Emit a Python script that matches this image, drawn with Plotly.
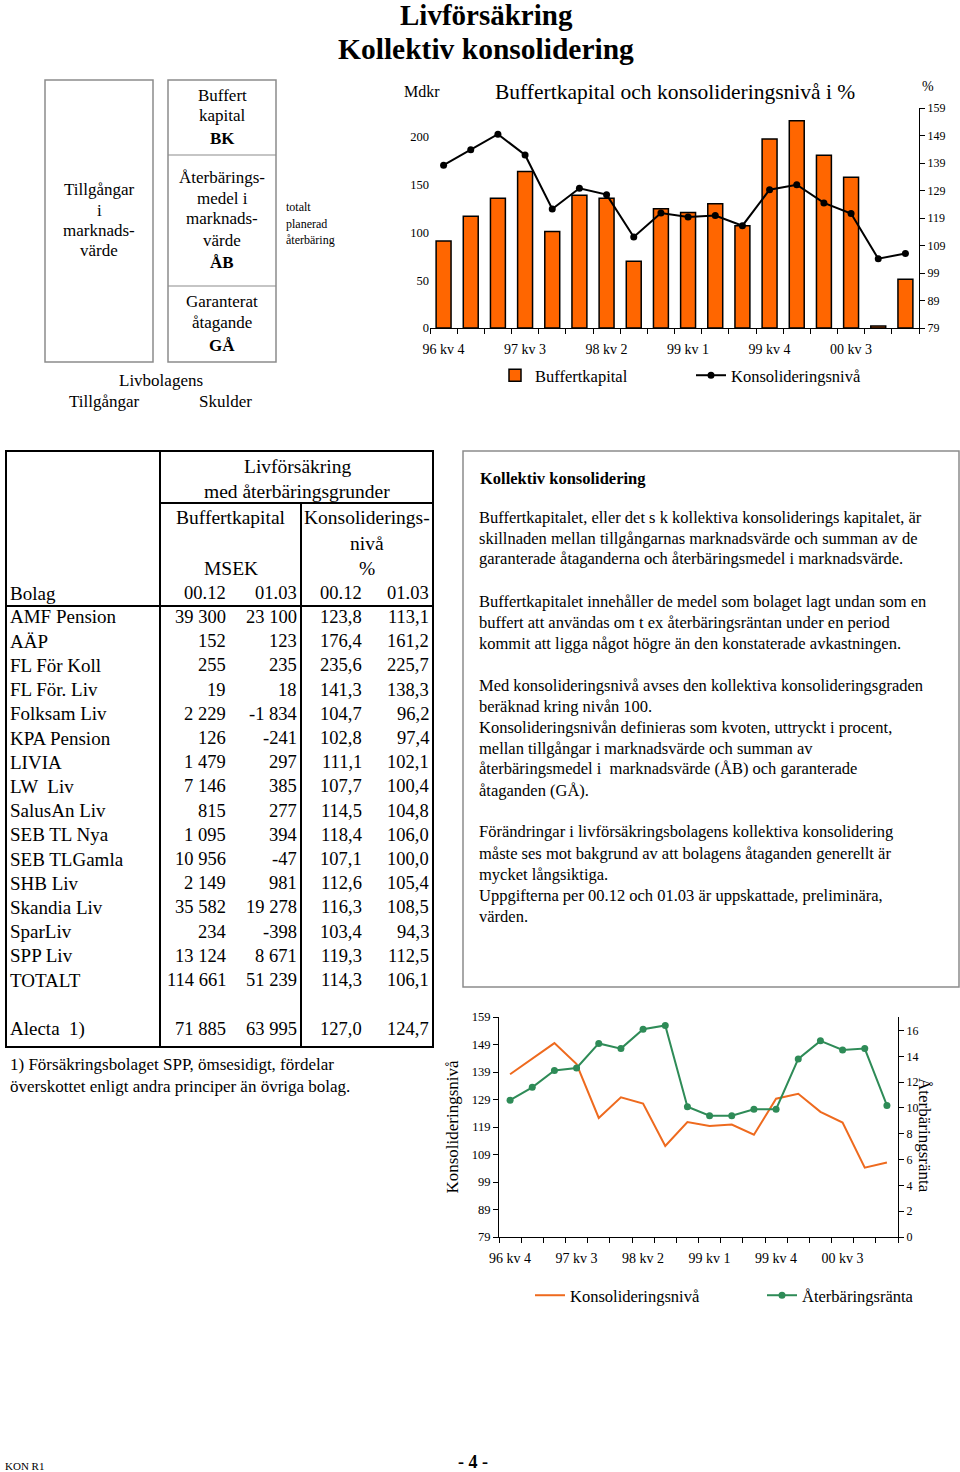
import plotly.graph_objects as go

# ---------------- data ----------------
quarters = ["96 kv 4", "97 kv 1", "97 kv 2", "97 kv 3", "97 kv 4", "98 kv 1", "98 kv 2",
            "98 kv 3", "98 kv 4", "99 kv 1", "99 kv 2", "99 kv 3", "99 kv 4", "00 kv 1",
            "00 kv 2", "00 kv 3", "00 kv 4", "01 kv 1"]
buffertkapital = [91, 117, 136, 164, 101, 139, 136, 70, 125, 121, 130, 107, 198, 217, 181, 158, 2, 51]
konsolideringsniva = [138.2, 143.8, 149.5, 141.9, 122.3, 129.8, 127.5, 112.1, 120.8, 119.4,
                      119.9, 116.2, 129.3, 131.1, 124.5, 120.6, 104.2, 106.1]
aterbaringsranta = [10.6, 11.6, 12.9, 13.1, 15.0, 14.6, 16.1, 16.4, 10.1, 9.4, 9.4, 9.9, 9.9,
                    13.8, 15.2, 14.5, 14.6, 10.2]
label_step = 3
left_ticks_top = [0, 50, 100, 150, 200]
pct_ticks = [79, 89, 99, 109, 119, 129, 139, 149, 159]
ranta_ticks = [0, 2, 4, 6, 8, 10, 12, 14, 16]

bolag = ["AMF Pension", "AÄP", "FL För Koll", "FL För. Liv", "Folksam Liv", "KPA Pension",
         "LIVIA", "LW  Liv", "SalusAn Liv", "SEB TL Nya", "SEB TLGamla", "SHB Liv",
         "Skandia Liv", "SparLiv", "SPP Liv", "TOTALT", "Alecta  1)"]
bk_0012 = [39300, 152, 255, 19, 2229, 126, 1479, 7146, 815, 1095, 10956, 2149, 35582, 234, 13124, 114661, 71885]
bk_0103 = [23100, 123, 235, 18, -1834, -241, 297, 385, 277, 394, -47, 981, 19278, -398, 8671, 51239, 63995]
kn_0012 = [123.8, 176.4, 235.6, 141.3, 104.7, 102.8, 111.1, 107.7, 114.5, 118.4, 107.1, 112.6, 116.3, 103.4, 119.3, 114.3, 127.0]
kn_0103 = [113.1, 161.2, 225.7, 138.3, 96.2, 97.4, 102.1, 100.4, 104.8, 106.0, 100.0, 105.4, 108.5, 94.3, 112.5, 106.1, 124.7]

FONT = "Liberation Serif"
ORANGE = "#FF6600"
ORANGE_LINE = "#EE6A1E"
GREEN = "#2E8B57"

W, H = 960, 1472


def X(px):
    return px / W


def Y(py):
    return 1 - py / H


idx = list(range(len(quarters)))
lab_idx = idx[::label_step][:6]
lab_txt = [quarters[i] for i in lab_idx]

fig = go.Figure()

# ---------------- top chart ----------------
fig.add_trace(go.Bar(x=idx, y=buffertkapital, name="Buffertkapital", width=0.55,
                     marker=dict(color=ORANGE, line=dict(color="black", width=1.5)),
                     xaxis="x", yaxis="y", legend="legend"))
fig.add_trace(go.Scatter(x=idx, y=konsolideringsniva, name="Konsolideringsnivå",
                         mode="lines+markers", line=dict(color="black", width=2),
                         marker=dict(color="black", size=7),
                         xaxis="x", yaxis="y2", legend="legend"))

# ---------------- bottom chart ----------------
fig.add_trace(go.Scatter(x=idx, y=konsolideringsniva, name="Konsolideringsnivå",
                         mode="lines", line=dict(color=ORANGE_LINE, width=2),
                         xaxis="x2", yaxis="y3", legend="legend2"))
fig.add_trace(go.Scatter(x=idx, y=aterbaringsranta, name="Återbäringsränta",
                         mode="lines+markers", line=dict(color=GREEN, width=2),
                         marker=dict(color=GREEN, size=7),
                         xaxis="x2", yaxis="y4", legend="legend2"))

xcommon = dict(range=[-0.5, len(quarters) - 0.5], tickmode="array", tickvals=lab_idx,
               ticktext=lab_txt, ticks="", showline=True, linecolor="black", linewidth=1,
               showgrid=False, zeroline=False, ticklabelstandoff=8, automargin=False,
               minor=dict(tickmode="linear", tick0=-0.5, dtick=1, ticks="outside",
                          ticklen=5, tickcolor="black", showgrid=False),
               tickfont=dict(family=FONT, size=14, color="black"))

fig.update_layout(
    template="none",
    xaxis=dict(domain=[X(430), X(919)], anchor="y", **xcommon),
    yaxis=dict(domain=[Y(328), Y(108)], range=[0, 230.4], tickvals=left_ticks_top,
               showline=False, showgrid=False, zeroline=False, ticks="", automargin=False,
               tickfont=dict(family=FONT, size=12.5, color="black"), anchor="x"),
    yaxis2=dict(domain=[Y(328), Y(108)], range=[79, 159], tickvals=pct_ticks,
                overlaying="y", side="right", anchor="x", showline=True, linecolor="black",
                ticks="outside", ticklen=5, tickcolor="black", showgrid=False, zeroline=False,
                automargin=False, tickfont=dict(family=FONT, size=12, color="black")),
    xaxis2=dict(domain=[X(499), X(898)], anchor="y3", **xcommon),
    yaxis3=dict(domain=[Y(1237), Y(1017)], range=[79, 159], tickvals=pct_ticks, anchor="x2",
                showline=True, linecolor="black", ticks="outside", ticklen=5, tickcolor="black",
                showgrid=False, zeroline=False, automargin=False,
                tickfont=dict(family=FONT, size=12.5, color="black"),
                title=dict(text="Konsolideringsnivå", standoff=8,
                           font=dict(family=FONT, size=17, color="black"))),
    yaxis4=dict(domain=[Y(1237), Y(1017)], range=[0, 17.05], tickvals=ranta_ticks,
                overlaying="y3", side="right", anchor="x2", showline=True, linecolor="black",
                ticks="outside", ticklen=5, tickcolor="black", showgrid=False, zeroline=False,
                automargin=False, tickfont=dict(family=FONT, size=12, color="black")),
    legend=dict(orientation="h", x=X(495), y=Y(358), xanchor="left", yanchor="top",
                font=dict(family=FONT, size=16.5, color="black"), bgcolor="rgba(0,0,0,0)",
                entrywidth=151, entrywidthmode="pixels"),
    legend2=dict(orientation="h", x=X(530), y=Y(1278), xanchor="left", yanchor="top",
                 font=dict(family=FONT, size=16.5, color="black"), bgcolor="rgba(0,0,0,0)",
                 entrywidth=187, entrywidthmode="pixels"),
    width=W, height=H, autosize=False,
    margin=dict(l=0, r=0, t=0, b=0, pad=0, autoexpand=False),
    paper_bgcolor="white", plot_bgcolor="white",
    showlegend=True,
    font=dict(family=FONT, color="black"),
)

ann = []


def txt(x, y, s, size=16, xanchor="center", bold=False, yanchor="middle", angle=0):
    if bold:
        s = "<b>" + s + "</b>"
    ann.append(dict(x=X(x), y=Y(y), xref="paper", yref="paper", text=s, showarrow=False,
                    xanchor=xanchor, yanchor=yanchor, textangle=angle,
                    font=dict(family=FONT, size=size, color="black")))


# page title
txt(486, 15, "Livförsäkring", 29, bold=True)
txt(486, 49, "Kollektiv konsolidering", 29.5, bold=True)

# top chart texts
txt(675, 92, "Buffertkapital och konsolideringsnivå i %", 21.5)
txt(422, 91, "Mdkr", 16)
txt(928, 86, "%", 14)

shapes = []


def rect(x0, y0, x1, y1, color="#8c8c8c", width=1.5):
    shapes.append(dict(type="rect", xref="paper", yref="paper", x0=X(x0), x1=X(x1),
                       y0=Y(y0), y1=Y(y1), line=dict(color=color, width=width)))


def line(x0, y0, x1, y1, color="black", width=2):
    shapes.append(dict(type="line", xref="paper", yref="paper", x0=X(x0), x1=X(x1),
                       y0=Y(y0), y1=Y(y1), line=dict(color=color, width=width)))


rect(45, 80, 153, 362)
rect(168, 80, 276, 362)
line(168, 155, 276, 155, "#8c8c8c", 1.2)
line(168, 286, 276, 286, "#8c8c8c", 1.2)
for s, yy, b in [("Buffert", 95, False), ("kapital", 116, False), ("BK", 138, True),
                 ("Återbärings-", 177, False), ("medel i", 198, False), ("marknads-", 219, False),
                 ("värde", 240, False), ("ÅB", 262, True), ("Garanterat", 301, False),
                 ("åtagande", 322, False), ("GÅ", 345, True)]:
    txt(222, yy, s, 17, bold=b)
for s, yy in [("Tillgångar", 189), ("i", 210), ("marknads-", 231), ("värde", 251)]:
    txt(99, yy, s, 17)
for s, yy in [("totalt", 207), ("planerad", 224), ("återbäring", 240)]:
    txt(284, yy, s, 12, xanchor="left")
txt(161, 380, "Livbolagens", 17)
txt(104, 401, "Tillgångar", 17)
txt(225, 401, "Skulder", 17)

# ---------------- table ----------------
rect(6, 451, 433, 1047, "black", 2)
line(160, 451, 160, 1047)
line(160, 503, 433, 503)
line(301, 503, 301, 1047)
line(6, 606, 433, 606)

HS = 19.5   # header text
NS = 19     # company names
TS = 18.5   # numbers
txt(297, 466, "Livförsäkring", HS)
txt(297, 491, "med återbäringsgrunder", HS)
txt(231, 517, "Buffertkapital", HS)
txt(367, 517, "Konsoliderings-", HS)
txt(367, 543, "nivå", HS)
txt(231, 568, "MSEK", HS)
txt(367, 568, "%", HS)
txt(8, 593, "Bolag", NS, xanchor="left")
col_r = [228, 299, 364, 431]
for c, s in zip(col_r, ["00.12", "01.03", "00.12", "01.03"]):
    txt(c, 593, s, TS, xanchor="right")


def fmt_int(v):
    return f"{v:,}".replace(",", " ")


def fmt_dec(v):
    return f"{v:.1f}".replace(".", ",")


row_y = [617 + 24.2 * i for i in range(16)] + [1029]
for i, name in enumerate(bolag):
    yy = row_y[i]
    txt(8, yy, name, NS, xanchor="left")
    txt(col_r[0], yy, fmt_int(bk_0012[i]), TS, xanchor="right")
    txt(col_r[1], yy, fmt_int(bk_0103[i]), TS, xanchor="right")
    txt(col_r[2], yy, fmt_dec(kn_0012[i]), TS, xanchor="right")
    txt(col_r[3], yy, fmt_dec(kn_0103[i]), TS, xanchor="right")

txt(8, 1064, "1) Försäkringsbolaget SPP, ömsesidigt, fördelar", 17, xanchor="left")
txt(8, 1086, "överskottet enligt andra principer än övriga bolag.", 17, xanchor="left")

# ---------------- text box ----------------
rect(463, 451, 959, 987, "#8c8c8c", 1.5)
txt(478, 479, "Kollektiv konsolidering", 16.5, xanchor="left", bold=True)
box_lines = [
    (517, "Buffertkapitalet, eller det s k kollektiva konsoliderings kapitalet, är"),
    (538, "skillnaden mellan tillgångarnas marknadsvärde och summan av de"),
    (559, "garanterade åtaganderna och återbäringsmedel i marknadsvärde."),
    (601, "Buffertkapitalet innehåller de medel som bolaget lagt undan som en"),
    (622, "buffert att användas om t ex återbäringsräntan under en period"),
    (643, "kommit att ligga något högre än den konstaterade avkastningen."),
    (685, "Med konsolideringsnivå avses den kollektiva konsolideringsgraden"),
    (706, "beräknad kring nivån 100."),
    (727, "Konsolideringsnivån definieras som kvoten, uttryckt i procent,"),
    (748, "mellan tillgångar i marknadsvärde och summan av"),
    (769, "återbäringsmedel i  marknadsvärde (ÅB) och garanterade"),
    (790, "åtaganden (GÅ)."),
    (832, "Förändringar i livförsäkringsbolagens kollektiva konsolidering"),
    (853, "måste ses mot bakgrund av att bolagens åtaganden generellt är"),
    (874, "mycket långsiktiga."),
    (895, "Uppgifterna per 00.12 och 01.03 är uppskattade, preliminära,"),
    (916, "värden."),
]
for yy, s in box_lines:
    txt(477, yy, s, 16.5, xanchor="left")

txt(925, 1135, "Återbäringsränta", 17, angle=90)

txt(3, 1466, "KON R1", 11, xanchor="left")
txt(473, 1462, "- 4 -", 18, bold=True)

fig.update_layout(annotations=ann, shapes=shapes)
fig.write_html("out.html", config={"displayModeBar": False},
               post_script="document.body.style.margin='0px';")
